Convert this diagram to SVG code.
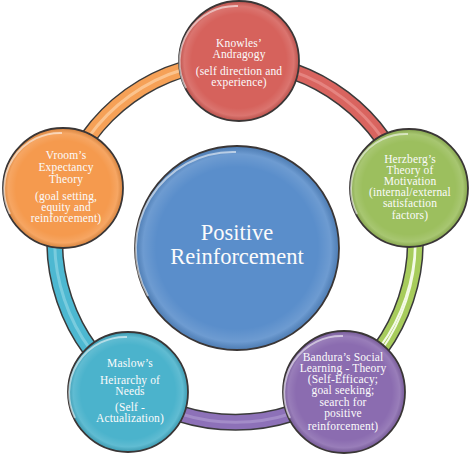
<svg xmlns="http://www.w3.org/2000/svg" width="474" height="457" viewBox="0 0 474 457">
<style>
.band-o{fill:none;stroke:#3a3a3a;stroke-width:17}
.band{fill:none;stroke-width:14}
.hl{fill:none;stroke-width:3;stroke-opacity:0.55}
.node{stroke:#3a3636;stroke-width:1.8}
.gloss{fill:url(#gloss)}
.rim{fill:none;stroke:#ffffff;stroke-opacity:0.55;stroke-width:2}
.t{font-family:"Liberation Serif","Times New Roman",serif;font-size:11.5px;letter-spacing:0.15px;fill:#fbfbfb;text-anchor:middle}
.tc{font-family:"Liberation Serif","Times New Roman",serif;font-size:22.5px;fill:#fbfbfb;text-anchor:middle}
</style>
<defs>
<radialGradient id="gloss" cx="0.5" cy="0.5" r="0.5">
<stop offset="0.8" stop-color="#ffffff" stop-opacity="0"/>
<stop offset="0.93" stop-color="#ffffff" stop-opacity="0.12"/>
<stop offset="1" stop-color="#000000" stop-opacity="0.1"/>
</radialGradient>
</defs>
<rect width="474" height="457" fill="#ffffff"/>
<g id="connectors">
<path class="band-o" d="M63 188.5 A180 180 0 0 1 239 62"/>
<path class="band" stroke="#F6A157" d="M63 188.5 A180 180 0 0 1 239 62"/>
<path class="hl" stroke="#FFE0BC" d="M63 188.5 A180 180 0 0 1 239 62"/>
<path class="band-o" d="M239 62 A180 180 0 0 1 407 189"/>
<path class="band" stroke="#D9645F" d="M239 62 A180 180 0 0 1 407 189"/>
<path class="hl" stroke="#EF9F9A" d="M239 62 A180 180 0 0 1 407 189"/>
<path class="band-o" d="M407 189 A180 180 0 0 1 341 388"/>
<path class="band" stroke="#A7CC5C" d="M407 189 A180 180 0 0 1 341 388"/>
<path fill="none" stroke="#F4FAE6" stroke-width="2" d="M407 189 A177 177 0 0 1 341 385"/>
<path fill="none" stroke="#F4FAE6" stroke-width="2" d="M407 189 A183 183 0 0 1 341 391"/>
<path class="band-o" d="M341 388 A180 180 0 0 1 130.5 388.5"/>
<path class="band" stroke="#8D71B8" d="M341 388 A180 180 0 0 1 130.5 388.5"/>
<path class="hl" stroke="#B7A3D6" d="M341 388 A180 180 0 0 1 130.5 388.5"/>
<path class="band-o" d="M130.5 388.5 A180 180 0 0 1 63 188.5"/>
<path class="band" stroke="#4DB8D1" d="M130.5 388.5 A180 180 0 0 1 63 188.5"/>
<path class="hl" stroke="#9EDCEA" d="M130.5 388.5 A180 180 0 0 1 63 188.5"/>
</g>
<g id="center">
<circle class="node" cx="237" cy="248" r="102" fill="#5A8ECB"/>
<circle class="gloss" cx="237" cy="248" r="101"/>
<path class="rim" d="M148 296 A97 97 0 0 1 236 152"/>
<text class="tc" x="237" y="240">Positive</text>
<text class="tc" x="237" y="264">Reinforcement</text>
</g>
<g id="knowles">
<circle class="node" cx="239" cy="61" r="60" fill="#D6625C"/>
<circle class="gloss" cx="239" cy="61" r="59"/>
<path class="rim" d="M186 88 A56 56 0 0 1 238 6"/>
<text class="t" x="239" y="47">Knowles’</text>
<text class="t" x="239" y="58">Andragogy</text>
<text class="t" x="239" y="75">(self direction and</text>
<text class="t" x="239" y="86">experience)</text>
</g>
<g id="herzberg">
<circle class="node" cx="409" cy="188" r="59" fill="#9CBF5E"/>
<circle class="gloss" cx="409" cy="188" r="58"/>
<path class="rim" d="M357 214 A55 55 0 0 1 408 134"/>
<text class="t" x="410" y="163">Herzberg’s</text>
<text class="t" x="410" y="174">Theory of</text>
<text class="t" x="410" y="185">Motivation</text>
<text class="t" x="410" y="196">(internal/external</text>
<text class="t" x="410" y="207">satisfaction</text>
<text class="t" x="410" y="219">factors)</text>
</g>
<g id="vroom">
<circle class="node" cx="63" cy="188" r="60" fill="#F59A4E"/>
<circle class="gloss" cx="63" cy="188" r="59"/>
<path class="rim" d="M10 214 A56 56 0 0 1 62 133"/>
<text class="t" x="66" y="159">Vroom’s</text>
<text class="t" x="66" y="171">Expectancy</text>
<text class="t" x="66" y="183">Theory</text>
<text class="t" x="66" y="200">(goal setting,</text>
<text class="t" x="66" y="211">equity and</text>
<text class="t" x="66" y="222">reinforcement)</text>
</g>
<g id="maslow">
<circle class="node" cx="128" cy="392" r="60" fill="#4BB3CC"/>
<circle class="gloss" cx="128" cy="392" r="59"/>
<path class="rim" d="M75 418 A56 56 0 0 1 127 337"/>
<text class="t" x="130" y="367">Maslow’s</text>
<text class="t" x="130" y="384">Heirarchy of</text>
<text class="t" x="130" y="395">Needs</text>
<text class="t" x="130" y="411">(Self -</text>
<text class="t" x="130" y="422">Actualization)</text>
</g>
<g id="bandura">
<circle class="node" cx="344" cy="392" r="61" fill="#8B6CB0"/>
<circle class="gloss" cx="344" cy="392" r="60"/>
<path class="rim" d="M290 418 A57 57 0 0 1 343 336"/>
<text class="t" x="343" y="361">Bandura’s Social</text>
<text class="t" x="343" y="372">Learning - Theory</text>
<text class="t" x="343" y="383">(Self-Efficacy;</text>
<text class="t" x="343" y="394">goal seeking;</text>
<text class="t" x="343" y="406">search for</text>
<text class="t" x="343" y="417">positive</text>
<text class="t" x="343" y="430">reinforcement)</text>
</g>
</svg>
